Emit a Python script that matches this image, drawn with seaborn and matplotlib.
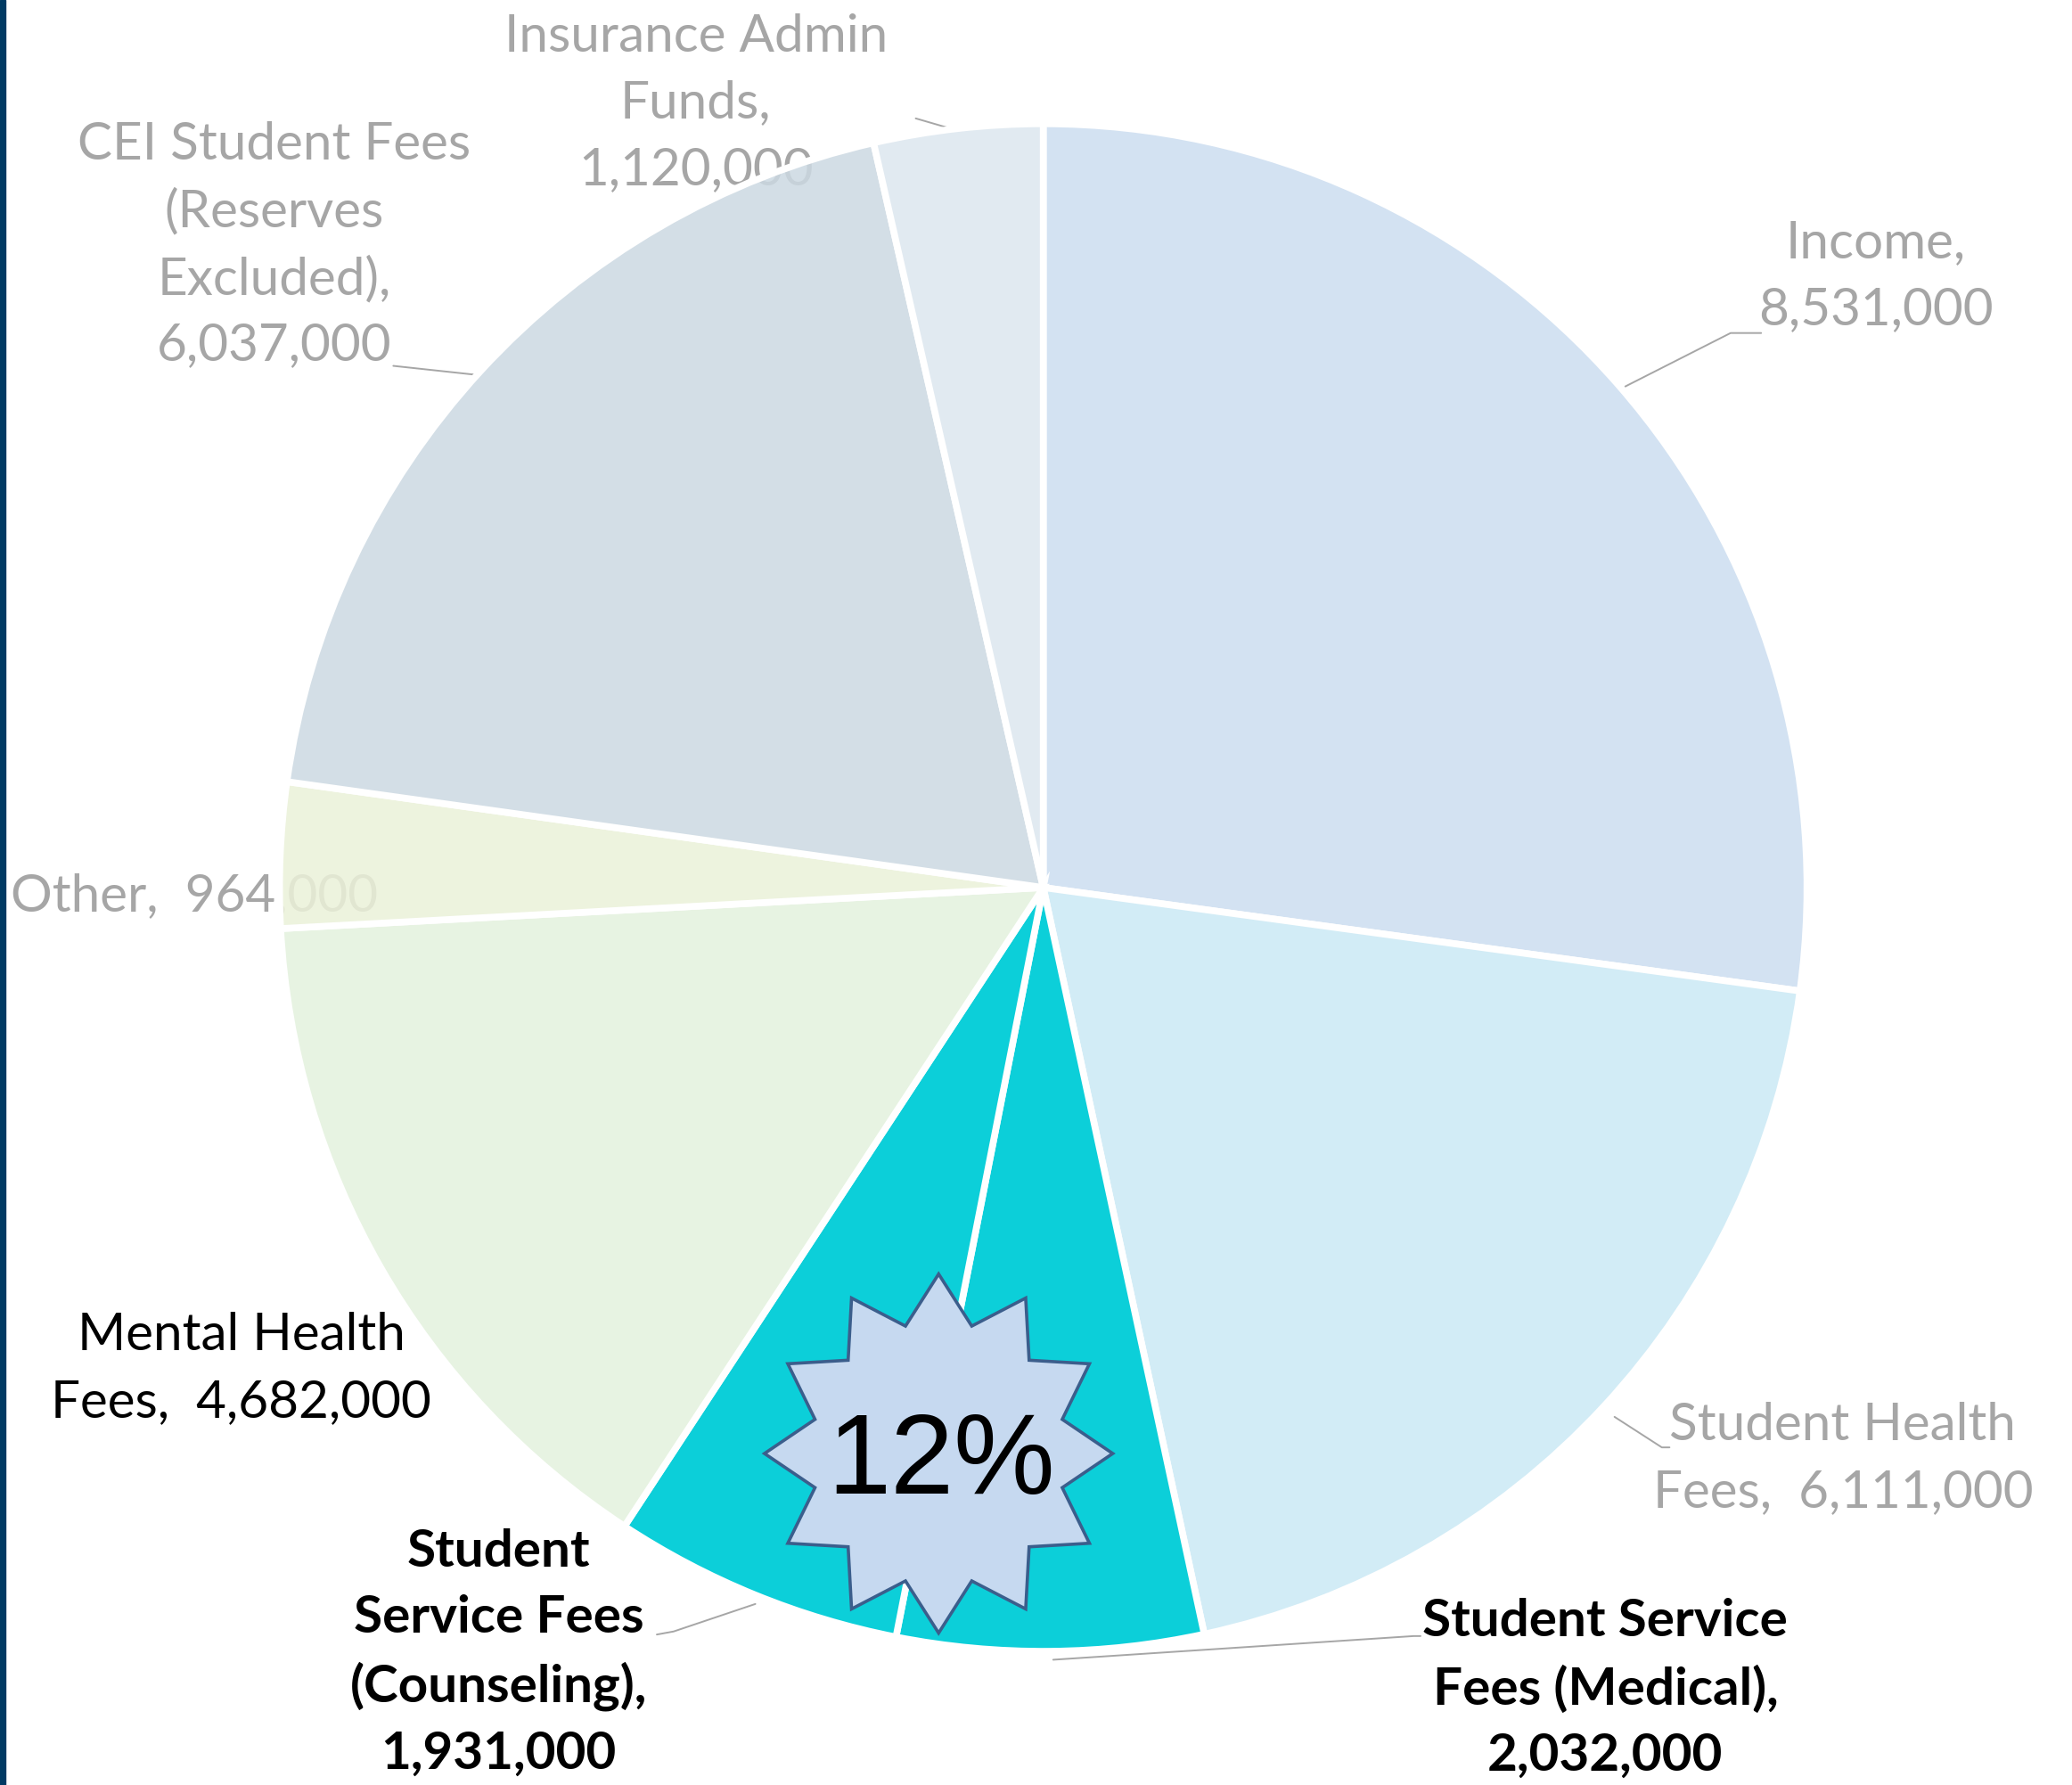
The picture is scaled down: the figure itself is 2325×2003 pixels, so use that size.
import numpy as np
import matplotlib
matplotlib.use("Agg")
import matplotlib.pyplot as plt
import seaborn as sns
from matplotlib.colors import to_rgb
from matplotlib.patches import Polygon, Rectangle

# --- data ---
categories = ["Income", "Student Health Fees", "Student Service Fees (Medical)",
              "Student Service Fees (Counseling)", "Mental Health Fees", "Other",
              "CEI Student Fees (Reserves Excluded)", "Insurance Admin Funds"]
amounts = [8531000, 6111000, 2032000, 1931000, 4682000, 964000, 6037000, 1120000]
label_prefixes = ["Income,\n", "Student Health\nFees,  ", "Student Service\nFees (Medical),\n",
                  "Student\nService Fees\n(Counseling),\n", "Mental Health\nFees,  ", "Other,  ",
                  "CEI Student Fees\n(Reserves\nExcluded),\n", "Insurance Admin\nFunds,\n"]
highlight_share = "12%"

slice_colors = ["#D3E3F2", "#D2ECF6", "#0CCFD9", "#0CCFD9",
                "#E7F3E3", "#EEF3DE", "#D3DEE6", "#E1EAF1"]

GRAY = "#A6A6A6"
# label placement: (x, y), color, weight, leader polyline or None
label_layout = [
    ((1.090, 0.800), GRAY, "normal", [(0.762, 0.656), (0.900, 0.726), (0.940, 0.726)]),
    ((1.047, -0.748), GRAY, "normal", [(0.748, -0.693), (0.810, -0.733), (0.820, -0.733)]),
    ((0.736, -1.049), "black", "bold", [(0.013, -1.011), (0.485, -0.980), (0.494, -0.980)]),
    ((-0.713, -1.002), "black", "bold", [(-0.377, -0.938), (-0.484, -0.974), (-0.506, -0.978)]),
    ((-1.050, -0.630), "black", "normal", None),
    ((-1.111, -0.011), GRAY, "normal", None),
    ((-1.007, 0.841), GRAY, "normal", [(-0.851, 0.683), (-0.740, 0.671)]),
    ((-0.455, 1.027), GRAY, "normal", [(-0.167, 1.007), (-0.112, 0.991)]),
]

sns.set_theme(style="white")
plt.rcParams["font.family"] = ["Lato", "DejaVu Sans"]

fig = plt.figure(figsize=(23.25, 20.03), dpi=100)
ax = fig.add_axes([0, 0, 1, 1])

wedges, _ = ax.pie(amounts, colors=slice_colors, startangle=90, counterclock=False,
                   radius=1, wedgeprops=dict(edgecolor="white", linewidth=5.5))
a = 0.86
for w, c in zip(wedges, slice_colors):
    if c != "#0CCFD9":
        # slightly see-through so labels beneath show faintly, colour kept as seen
        base = np.clip((np.array(to_rgb(c)) - (1 - a)) / a, 0, 1)
        w.set_facecolor((*base, a))
    w.set_zorder(2)

for prefix, amt, (pos, col, wt, leader) in zip(label_prefixes, amounts, label_layout):
    ax.text(pos[0], pos[1], prefix + f"{amt:,}", ha="center", va="center",
            multialignment="center", fontsize=42, color=col, fontweight=wt,
            linespacing=1.5, zorder=1)
    if leader:
        xs, ys = zip(*leader)
        ax.plot(xs, ys, color=GRAY, lw=1.4, zorder=1)

# starburst callout
cx, cy = -0.137, -0.741
ang = np.deg2rad(90 + 15 * np.arange(24))
rad = np.where(np.arange(24) % 2 == 0, 1.0, 0.735)
star = np.column_stack([cx + 0.228 * rad * np.cos(ang), cy + 0.235 * rad * np.sin(ang)])
ax.add_patch(Polygon(star, closed=True, facecolor="#C6D9F0", edgecolor="#3B5E8C",
                     linewidth=2.6, zorder=3))
ax.text(-0.134, -0.755, highlight_share, ha="center", va="center", fontsize=92,
        family="Liberation Sans", color="black", zorder=4)

ax.set_xlim(-1.366, 1.347)
ax.set_ylim(-1.175, 1.162)
ax.set_aspect("auto")
ax.axis("off")

fig.add_artist(Rectangle((0, 0), 6 / 2325, 1, transform=fig.transFigure,
                         color="#003A63", zorder=10))

fig.savefig("out.png", dpi=100)
